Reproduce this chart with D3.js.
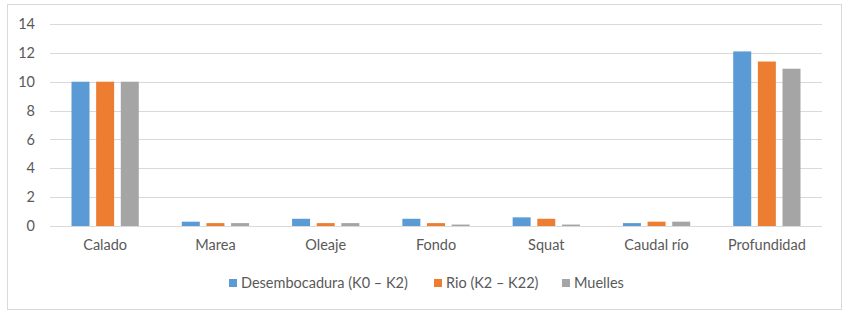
<!DOCTYPE html>
<html>
<head>
<meta charset="utf-8">
<script src="https://cdn.jsdelivr.net/npm/d3@7"></script>
<style>
  body { margin: 0; background: #fff; }
  svg text { font-family: Lato, "Open Sans", sans-serif; fill: #595959; }
</style>
</head>
<body>
<svg id="chart" width="853" height="315"></svg>
<script>
// categories and series
const categories = ["Calado", "Marea", "Oleaje", "Fondo", "Squat", "Caudal río", "Profundidad"];
const seriesNames = ["Desembocadura (K0 – K2)", "Rio (K2 – K22)", "Muelles"];
const desembocadura = [10, 0.3, 0.5, 0.5, 0.6, 0.2, 12.1];
const rio = [10, 0.2, 0.2, 0.2, 0.5, 0.3, 11.4];
const muelles = [10, 0.2, 0.2, 0.1, 0.1, 0.3, 10.9];
const yTicks = [0, 2, 4, 6, 8, 10, 12, 14];
const colors = ["#5B9BD5", "#ED7D31", "#A5A5A5"];

const values = [desembocadura, rio, muelles];
const data = categories.map((c, i) => ({cat: c, vals: values.map((v, s) => ({s: s, v: v[i]}))}));

const svg = d3.select("#chart");
const margin = {top: 24, right: 31, bottom: 89, left: 50};
const width = 853, height = 315;
const fontSize = "14.5px";

// outer frame
svg.append("rect")
    .attr("x", 7.5).attr("y", 4.5)
    .attr("width", 834).attr("height", 305)
    .attr("fill", "#fff").attr("stroke", "#D9D9D9");

let xScale = d3.scaleBand()
    .domain(categories)
    .range([margin.left, width - margin.right])
    .paddingInner(0.39).paddingOuter(0.195);

let xInner = d3.scaleBand()
    .domain([0, 1, 2])
    .range([0, xScale.bandwidth()])
    .paddingInner(0.27);

let yScale = d3.scaleLinear()
    .domain([0, 14])
    .range([height - margin.bottom, margin.top]);

// gridlines
svg.append("g")
    .selectAll("line").data(yTicks).enter().append("line")
    .attr("x1", margin.left).attr("x2", width - margin.right)
    .attr("y1", d => Math.round(yScale(d)) + 0.5)
    .attr("y2", d => Math.round(yScale(d)) + 0.5)
    .attr("stroke", "#D9D9D9").attr("stroke-width", 1);

// y axis labels
let axisy = d3.axisLeft(yScale).tickValues(yTicks).tickSize(0).tickPadding(15);
let yAxis = svg.append("g").attr("transform", "translate(" + margin.left + ",0)").call(axisy);
yAxis.select(".domain").remove();
yAxis.selectAll("text").style("font-size", fontSize).attr("fill", "#595959");

// bars
let groups = svg.append("g").selectAll("g").data(data).enter().append("g")
    .attr("transform", d => "translate(" + xScale(d.cat) + ",0)");
groups.selectAll("rect").data(d => d.vals).enter().append("rect")
    .attr("x", d => xInner(d.s))
    .attr("width", xInner.bandwidth())
    .attr("y", d => yScale(d.v))
    .attr("height", d => yScale(0) - yScale(d.v))
    .attr("fill", d => colors[d.s]);

// x axis labels
let axisx = d3.axisBottom(xScale).tickSize(0).tickPadding(14);
let xAxis = svg.append("g").attr("transform", "translate(0," + yScale(0) + ")").call(axisx);
xAxis.select(".domain").remove();
xAxis.selectAll("text").style("font-size", fontSize).attr("fill", "#595959");

// legend
const legendX = [229, 434, 562];
let legend = svg.append("g").selectAll("g").data(seriesNames).enter().append("g")
    .attr("transform", (d, i) => "translate(" + legendX[i] + ",283)");
legend.append("rect")
    .attr("x", 0).attr("y", -4).attr("width", 8).attr("height", 8)
    .attr("fill", (d, i) => colors[i]);
legend.append("text")
    .attr("x", 12).attr("y", 0).attr("dy", "0.35em")
    .style("font-size", fontSize)
    .text(d => d);
</script>
</body>
</html>
